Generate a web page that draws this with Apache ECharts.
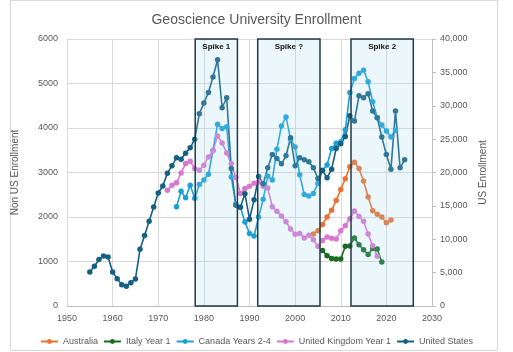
<!DOCTYPE html>
<html>
<head>
<meta charset="utf-8">
<script src="https://cdn.jsdelivr.net/npm/echarts@6/dist/echarts.min.js"></script>
<style>
html,body{margin:0;padding:0;background:#fff;}
#c{width:513px;height:352px;}
</style>
</head>
<body>
<div id="c"></div>
<script>
// ---- Data ----
const xTicks = [1950, 1960, 1970, 1980, 1990, 2000, 2010, 2020, 2030];
const leftTicks = [0, 1000, 2000, 3000, 4000, 5000, 6000];
const rightTicks = [0, 5000, 10000, 15000, 20000, 25000, 30000, 35000, 40000];

const australiaStart = 2004;
const australia = [1620, 1690, 1830, 2000, 2150, 2370, 2620, 2860, 3130, 3230, 3090, 2810, 2450, 2140, 2060, 2000, 1870, 1930];

const italyStart = 2006;
const italy = [1250, 1130, 1070, 1055, 1055, 1345, 1350, 1530, 1375, 1265, 1160, 1290, 1280, 990];

const canadaStart = 1974;
const canada = [2230, 2580, 2430, 2715, 2420, 2730, 2830, 2960, 3500, 4085, 3990, 4030, 2900, 2290, 2220,
  1890, 1630, 1575, 2000, 2400, 2920, 2830, 3525, 4045, 4250, 3750, 3575, 2950, 2505, 2470, 2530, 2755,
  3050, 3170, 3540, 3655, 3690, 3960, 4800, 5115, 5230, 5300, 5040, 4590, 4230, 4065, 3930, 3800, 3950];

const ukStart = 1972;
const uk = [2600, 2715, 2770, 2990, 3200, 3255, 3090, 3050, 3165, 3350, 3490, 3820, 3665, 3440, 3200, 2890,
  2530, 2640, 2690, 2760, 2785, 2690, 2650, 2230, 2130, 2020, 1895, 1730, 1610, 1630, 1530, 1590, 1490,
  1345, 1470, 1550, 1520, 1505, 1690, 1805, 1960, 2135, 2010, 1905, 1620, 1355, 1120];

const usStart = 1955;
const us = [5100, 5950, 6950, 7490, 7340, 5090, 4100, 3200, 2950, 3500, 4050, 8490, 10550, 12690, 14830,
  16930, 17980, 19900, 21000, 22200, 22000, 22900, 23700, 25000, 28800, 30400, 32000, 34300, 36900, 29700,
  31200, 20600, 15100, 14800, 16800, 13000, 15900, 19400, 18300, 20700, 22700, 22100, 21300, 22500, 25200,
  21000, 22200, 21900, 21600, 20700, 19100, 20300, 19200, 20500, 23600, 24300, 25400, 28500, 27700, 31500,
  31200, 31800, 29200, 28200, 25300, 22700, 20500, 29200, 20700, 21900];

const spikeNames = ['Spike 1', 'Spike ?', 'Spike 2'];
const spikeFrom = [1978.1, 1991.8, 2012.25];
const spikeTo = [1987.35, 2005.45, 2025.9];

// ---- Build ----
function pairs(start, vals) { return vals.map((v, i) => [start + i, v]); }

const labelColor = '#595959';
const gridColor = '#d9d9d9';
const font = 'Liberation Sans, Arial, sans-serif';

function lineSeries(name, start, vals, color, yIdx) {
  return {
    name: name, type: 'line', yAxisIndex: yIdx, data: pairs(start, vals),
    symbol: 'circle', symbolSize: 5.5, showSymbol: true,
    lineStyle: { color: color, width: 1.6 },
    itemStyle: { color: color },
    z: 2
  };
}

const chart = echarts.init(document.getElementById('c'), null, { renderer: 'canvas' });
chart.setOption({
  animation: false,
  backgroundColor: '#ffffff',
  textStyle: { fontFamily: font },
  title: {
    text: 'Geoscience University Enrollment',
    left: 'center', top: 8,
    textStyle: { color: labelColor, fontSize: 14, fontWeight: 'normal', fontFamily: font }
  },
  graphic: [{
    type: 'rect', shape: { x: 10.5, y: 0.5, width: 487, height: 350 },
    style: { fill: 'none', stroke: '#d9d9d9', lineWidth: 1 }, silent: true, z: -1
  }],
  legend: {
    data: ['Australia', 'Italy Year 1', 'Canada Years 2-4', 'United Kingdom Year 1', 'United States'],
    left: 'center', top: 332, itemWidth: 17, itemHeight: 6, itemGap: 5,
    textStyle: { color: labelColor, fontSize: 9, fontFamily: font }
  },
  grid: { left: 67, right: 81, top: 39, bottom: 46 },
  xAxis: {
    type: 'value', min: xTicks[0], max: xTicks[xTicks.length - 1], interval: 10,
    axisLine: { show: true, lineStyle: { color: '#bfbfbf' } },
    axisTick: { show: false },
    axisLabel: { color: labelColor, fontSize: 9, margin: 8, fontFamily: font, formatter: v => String(v) },
    splitLine: { show: true, lineStyle: { color: gridColor } }
  },
  yAxis: [{
    type: 'value', min: leftTicks[0], max: leftTicks[leftTicks.length - 1], interval: 1000,
    name: 'Non US Enrollment', nameLocation: 'middle', nameGap: 47, nameRotate: 90,
    nameTextStyle: { color: labelColor, fontSize: 10, fontFamily: font },
    axisLine: { show: false }, axisTick: { show: false },
    axisLabel: { color: labelColor, fontSize: 9, margin: 9, fontFamily: font, formatter: v => String(v) },
    splitLine: { show: true, lineStyle: { color: gridColor } }
  }, {
    type: 'value', min: rightTicks[0], max: rightTicks[rightTicks.length - 1], interval: 5000,
    position: 'right',
    name: 'US Enrollment', nameLocation: 'middle', nameGap: 39, nameRotate: 90,
    nameTextStyle: { color: labelColor, fontSize: 10, fontFamily: font },
    axisLine: { show: true, lineStyle: { color: '#bfbfbf' } },
    axisTick: { show: true, length: 4, lineStyle: { color: '#bfbfbf' } },
    axisLabel: { color: labelColor, fontSize: 9, margin: 8, fontFamily: font,
      formatter: v => v.toLocaleString('en-US') },
    splitLine: { show: false }
  }],
  series: [
    lineSeries('Australia', australiaStart, australia, '#e97132', 0),
    lineSeries('Italy Year 1', italyStart, italy, '#196b24', 0),
    lineSeries('Canada Years 2-4', canadaStart, canada, '#1a9fd6', 0),
    lineSeries('United Kingdom Year 1', ukStart, uk, '#d876d0', 0),
    lineSeries('United States', usStart, us, '#156082', 1),
    {
      name: 'spikes', type: 'line', yAxisIndex: 0, data: [], silent: true,
      markArea: {
        z: 10, silent: true,
        itemStyle: { color: 'rgba(160,215,240,0.2)', borderColor: '#1f3a48', borderWidth: 1.5 },
        label: { show: true, position: 'insideTop', distance: 5, color: '#111', fontSize: 8, fontWeight: 'bold', fontFamily: font },
        data: spikeNames.map((n, i) => [
          { name: n, xAxis: spikeFrom[i], yAxis: leftTicks[leftTicks.length - 1] },
          { xAxis: spikeTo[i], yAxis: leftTicks[0] }
        ])
      }
    }
  ]
});
</script>
</body>
</html>
